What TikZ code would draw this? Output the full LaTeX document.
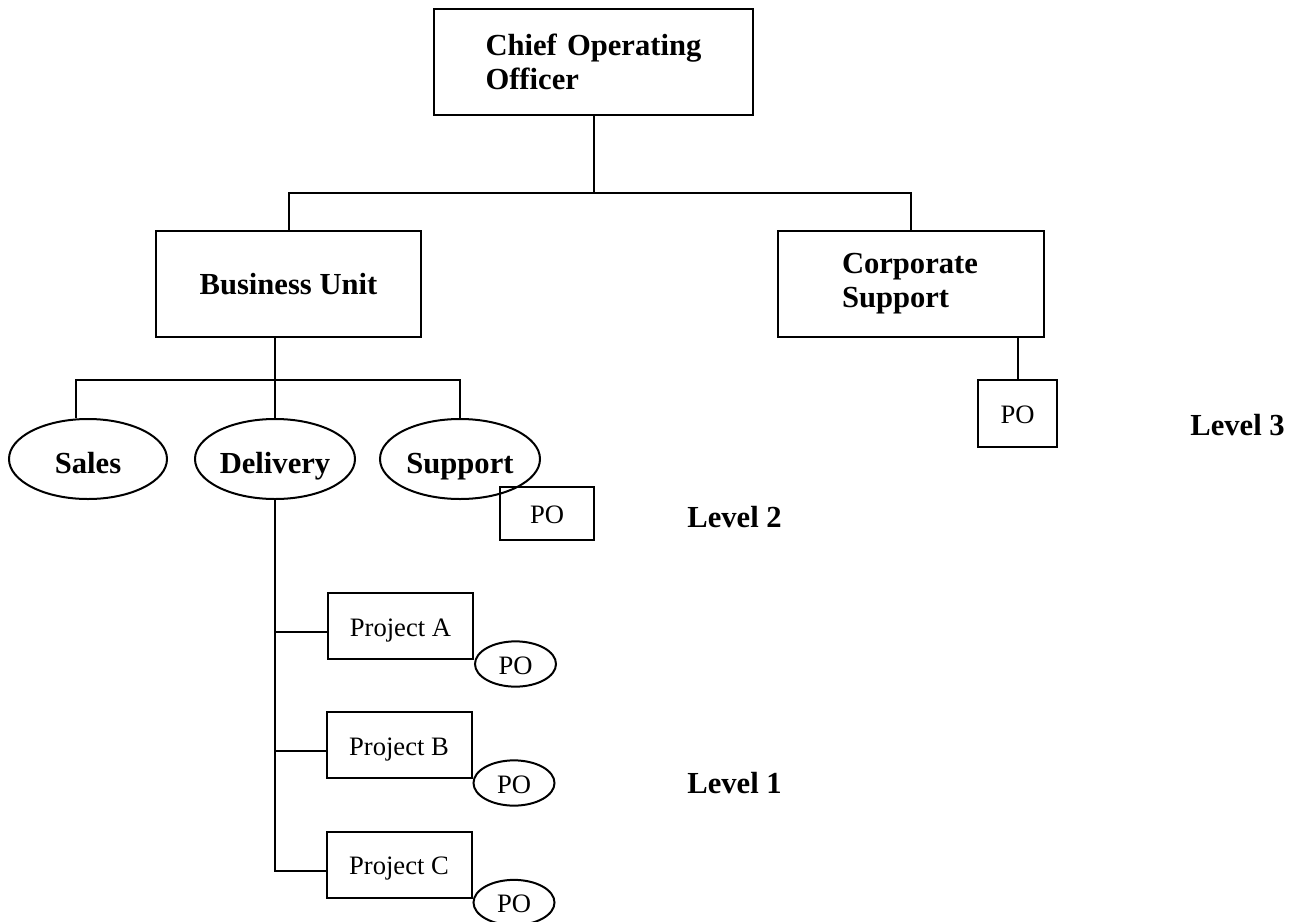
\documentclass[tikz,border=0pt]{standalone}
\usepackage{fontspec}
\setmainfont{Liberation Serif}
\usetikzlibrary{positioning,shapes.geometric}
\newcommand{\negrita}{\fontsize{15.3}{17}\selectfont\bfseries}
\newcommand{\letrafina}{\fontsize{13.3}{15}\selectfont}
\tikzset{
  caja/.style={draw,line width=1pt,minimum height=53pt,inner ysep=0pt,font=\negrita},
  ovalo/.style={draw,ellipse,line width=1pt,minimum width=#1,minimum height=40pt,inner sep=0pt,text height=18pt,text depth=3.5pt,font=\negrita},
  pocaja/.style={draw,line width=1pt,inner sep=0pt,text height=13pt,text depth=3pt,font=\letrafina},
  proyecto/.style={draw,line width=1pt,minimum width=72.5pt,minimum height=33pt,inner sep=0pt,text height=13pt,text depth=3pt,font=\letrafina},
  poval/.style={draw,ellipse,line width=1pt,minimum width=40.5pt,minimum height=22pt,inner sep=0pt,text height=13pt,text depth=3pt,font=\letrafina},
  nivel/.style={anchor=west,inner sep=0pt,font=\negrita},
  linea/.style={line width=1pt}
}
\begin{document}
\begin{tikzpicture}[x=0.5pt,y=-0.5pt]
	\useasboundingbox (0,0) rectangle (1303,922);
	\node[caja,text width=114pt,inner xsep=22.75pt,align=left] (coo) at (593.5,62) {\hspace{3pt}Chief Operating\\\hspace{3pt}Officer};
	\node[caja,minimum width=132.5pt] (bu) at (288.5,284) {Business Unit};
	\node[caja,text width=75pt,inner xsep=29pt,align=left] (corp) at (911,284) {\hspace{3pt}Corporate\\\hspace{3pt}Support};
	\node[pocaja,minimum width=39.5pt,minimum height=33.5pt] (corppo) at (1017.5,413.5) {PO};

	\foreach \Nombre/\Texto/\X/\Ancho in {sales/Sales/88/79pt,delivery/Delivery/275/80pt,support/Support/460/80pt} {
		\node[ovalo=\Ancho] (\Nombre) at (\X,459) {\Texto};
	}
	\node[pocaja,minimum width=47pt,minimum height=26.5pt] (supportpo) at (547,513.5) {PO};

	\foreach \Letra/\X/\Y in {A/400.5/626,B/399/745,C/399/864.5} {
		\node[proyecto] (proy\Letra) at (\X,\Y) {Project \Letra};
		\node[poval,anchor=west] (po\Letra) at ([yshift=-2pt]proy\Letra.south east) {PO};
	}

	\node[nivel] (nivel3) at (1190,425) {Level 3};
	\node[nivel] (nivel2) at (687,517) {Level 2};
	\node[nivel] (nivel1) at (687,783) {Level 1};

	\coordinate (rama) at (593.5,193);
	\coordinate (ramab) at (275,380);
	\draw[linea] (coo) -- (rama);
	\draw[linea] (bu.north) |- (rama) -| (corp.north);
	\draw[linea] (corppo.north) -- (corppo.north |- corp.south);
	\draw[linea] (delivery.north) -- (delivery.north |- bu.south);
	\draw[linea] ([xshift=-6pt]sales.north) |- (ramab) -| (support.north);
	\foreach \Letra in {A,B,C} {
		\draw[linea] (delivery.south) |- ([yshift=-3pt]proy\Letra.west);
	}
\end{tikzpicture}
\end{document}
